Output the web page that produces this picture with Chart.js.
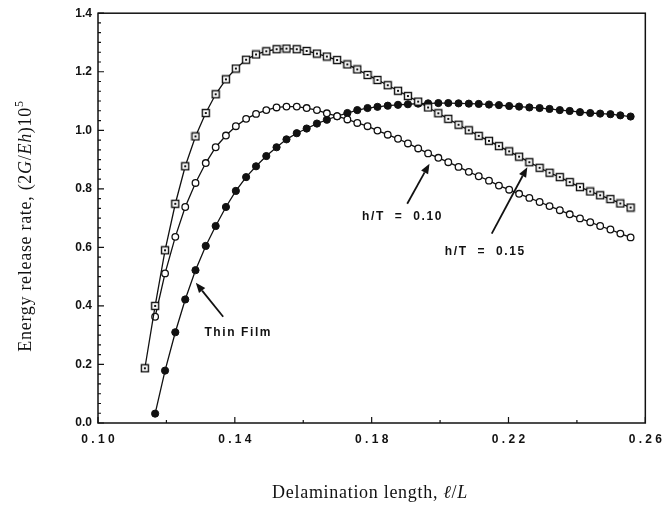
<!DOCTYPE html>
<html>
<head>
<meta charset="utf-8">
<script src="https://cdn.jsdelivr.net/npm/chart.js@4.4.1/dist/chart.umd.min.js"></script>
<style>
  html, body { margin: 0; padding: 0; background: #fff; }
  #wrap { width: 671px; height: 506px; }
</style>
</head>
<body>
<div id="wrap"><canvas id="chart" width="671" height="506"></canvas></div>
<script>
// delamination length l/L at each computed point
const lengths = [
  0.1137, 0.1167, 0.1196, 0.1226, 0.1255, 0.1285, 0.1315, 0.1344, 0.1374, 0.1403,
  0.1433, 0.1462, 0.1492, 0.1522, 0.1551, 0.1581, 0.1610, 0.1640, 0.1669, 0.1699,
  0.1729, 0.1758, 0.1788, 0.1817, 0.1847, 0.1877, 0.1906, 0.1936, 0.1965, 0.1995,
  0.2024, 0.2054, 0.2084, 0.2113, 0.2143, 0.2172, 0.2202, 0.2231, 0.2261, 0.2291,
  0.2320, 0.2350, 0.2379, 0.2409, 0.2439, 0.2468, 0.2498, 0.2527, 0.2557
];

// energy release rate (2G/Eh)10^5
const rateH15 = [
  0.187, 0.400, 0.590, 0.749, 0.877, 0.979, 1.059, 1.123, 1.174, 1.211,
  1.241, 1.259, 1.270, 1.277, 1.279, 1.277, 1.271, 1.262, 1.252, 1.240,
  1.225, 1.208, 1.189, 1.172, 1.154, 1.135, 1.117, 1.098, 1.078, 1.058,
  1.039, 1.019, 1.000, 0.981, 0.964, 0.946, 0.928, 0.910, 0.891, 0.872,
  0.855, 0.840, 0.823, 0.806, 0.791, 0.778, 0.765, 0.750, 0.736
];
const rateH10 = [
  null, 0.363, 0.511, 0.636, 0.738, 0.820, 0.888, 0.942, 0.982, 1.014,
  1.039, 1.056, 1.069, 1.078, 1.081, 1.081, 1.076, 1.069, 1.058, 1.048,
  1.037, 1.025, 1.014, 0.999, 0.985, 0.971, 0.955, 0.938, 0.921, 0.906,
  0.891, 0.875, 0.858, 0.843, 0.828, 0.811, 0.797, 0.783, 0.769, 0.755,
  0.741, 0.727, 0.713, 0.699, 0.686, 0.673, 0.661, 0.647, 0.634
];
const rateThinFilm = [
  null, 0.032, 0.179, 0.310, 0.422, 0.522, 0.605, 0.673, 0.738, 0.793,
  0.840, 0.877, 0.912, 0.942, 0.969, 0.990, 1.006, 1.023, 1.036, 1.048,
  1.059, 1.069, 1.076, 1.080, 1.084, 1.087, 1.089, 1.091, 1.092, 1.093,
  1.093, 1.092, 1.091, 1.090, 1.088, 1.086, 1.083, 1.081, 1.078, 1.076,
  1.073, 1.069, 1.066, 1.062, 1.059, 1.057, 1.055, 1.051, 1.047
];

const xMinorTicks = [0.12, 0.16, 0.20, 0.24];

// labels and arrows, in data units
const notes = [
  { text: "Thin Film", at: [0.1311, 0.309] },
  { text: "h/T  =  0.10", at: [0.1772, 0.704] },
  { text: "h/T  =  0.15", at: [0.2014, 0.584] }
];
const arrows = [
  { from: [0.1366, 0.363], to: [0.1286, 0.479] },
  { from: [0.1904, 0.749], to: [0.1969, 0.886] },
  { from: [0.2151, 0.647], to: [0.2255, 0.874] }
];

const INK = "#111";

function toPoints(ys) {
  const pts = [];
  ys.forEach((v, i) => { if (v !== null) pts.push({ x: lengths[i], y: v }); });
  return pts;
}

// square marker with a small dot in the middle
function squareMarker() {
  const c = document.createElement("canvas");
  c.width = 10; c.height = 10;
  const g = c.getContext("2d");
  g.fillStyle = "#fff";
  g.fillRect(1, 1, 8, 8);
  g.strokeStyle = INK;
  g.lineWidth = 1.4;
  g.strokeRect(1.5, 1.5, 7, 7);
  g.fillStyle = INK;
  g.fillRect(4, 4, 2, 2);
  return c;
}

const framePlugin = {
  id: "frame",
  beforeDatasetsDraw(chart) {
    const { ctx, chartArea: a, scales: { x, y } } = chart;
    ctx.save();
    ctx.strokeStyle = INK;
    ctx.lineWidth = 1.5;
    ctx.strokeRect(a.left, a.top, a.right - a.left, a.bottom - a.top);
    ctx.lineWidth = 1.2;
    ctx.beginPath();
    x.ticks.forEach(t => {
      const px = x.getPixelForValue(t.value);
      ctx.moveTo(px, a.bottom); ctx.lineTo(px, a.bottom - 6);
    });
    xMinorTicks.forEach(v => {
      const px = x.getPixelForValue(v);
      ctx.moveTo(px, a.bottom); ctx.lineTo(px, a.bottom - 3);
    });
    y.ticks.forEach(t => {
      const py = y.getPixelForValue(t.value);
      ctx.moveTo(a.left, py); ctx.lineTo(a.left + 6, py);
    });
    for (let i = 1; i < 42; i++) {
      if (i % 6 === 0) continue;
      const py = y.getPixelForValue(i * 0.2 / 6);
      ctx.moveTo(a.left, py); ctx.lineTo(a.left + 3, py);
    }
    ctx.stroke();
    ctx.restore();
  },
  afterDatasetsDraw(chart) {
    const { ctx, scales: { x, y } } = chart;
    ctx.save();
    ctx.fillStyle = INK;
    ctx.strokeStyle = INK;
    ctx.font = "bold 12px 'Liberation Sans', Arial, sans-serif";
    ctx.letterSpacing = "1.6px";
    ctx.textBaseline = "middle";
    notes.forEach(n => {
      ctx.fillText(n.text, x.getPixelForValue(n.at[0]), y.getPixelForValue(n.at[1]));
    });
    ctx.lineWidth = 1.8;
    arrows.forEach(ar => {
      const x0 = x.getPixelForValue(ar.from[0]), y0 = y.getPixelForValue(ar.from[1]);
      const x1 = x.getPixelForValue(ar.to[0]), y1 = y.getPixelForValue(ar.to[1]);
      const ang = Math.atan2(y1 - y0, x1 - x0);
      const len = 10, half = 4;
      const bx = x1 - len * Math.cos(ang), by = y1 - len * Math.sin(ang);
      ctx.beginPath();
      ctx.moveTo(x0, y0); ctx.lineTo(bx, by);
      ctx.stroke();
      ctx.beginPath();
      ctx.moveTo(x1, y1);
      ctx.lineTo(bx + half * Math.sin(ang), by - half * Math.cos(ang));
      ctx.lineTo(bx - half * Math.sin(ang), by + half * Math.cos(ang));
      ctx.closePath();
      ctx.fill();
    });
    ctx.restore();
  },
  afterDraw(chart) {
    const { ctx } = chart;
    const serif = "'Liberation Serif', 'Times New Roman', serif";
    const rm = "18px " + serif, it = "italic 18px " + serif, sup = "12px " + serif;
    const drawParts = (parts, cx, cy, rotate) => {
      ctx.save();
      ctx.translate(cx, cy);
      if (rotate) ctx.rotate(-Math.PI / 2);
      ctx.fillStyle = INK;
      ctx.textBaseline = "alphabetic";
      ctx.letterSpacing = "0.7px";
      let total = 0;
      parts.forEach(p => { ctx.font = p[1]; total += ctx.measureText(p[0]).width; });
      let px = -total / 2;
      parts.forEach(p => {
        ctx.font = p[1];
        ctx.fillText(p[0], px, p[2] || 0);
        px += ctx.measureText(p[0]).width;
      });
      ctx.restore();
    };
    drawParts([
      ["Energy release rate, (2", rm], ["G", it], ["/", rm], ["Eh", it], [")10", rm], ["5", sup, -8]
    ], 31, 226, true);
    drawParts([
      ["Delamination length, ", rm], ["\u2113", it], ["/", rm], ["L", it]
    ], 370, 498, false);
  }
};

Chart.defaults.font.family = "'Liberation Sans', Arial, sans-serif";
Chart.defaults.color = INK;

new Chart(document.getElementById("chart"), {
  type: "line",
  data: {
    datasets: [
      {
        label: "h/T = 0.15",
        data: toPoints(rateH15),
        borderColor: INK,
        borderWidth: 1.3,
        pointStyle: squareMarker(),
        pointRadius: 4
      },
      {
        label: "h/T = 0.10",
        data: toPoints(rateH10),
        borderColor: INK,
        borderWidth: 1.3,
        pointStyle: "circle",
        pointRadius: 3.3,
        pointBackgroundColor: "#fff",
        pointBorderColor: INK,
        pointBorderWidth: 1.3
      },
      {
        label: "Thin Film",
        data: toPoints(rateThinFilm),
        borderColor: INK,
        borderWidth: 1.3,
        pointStyle: "circle",
        pointRadius: 3.6,
        pointBackgroundColor: INK,
        pointBorderColor: INK,
        pointBorderWidth: 1
      }
    ]
  },
  options: {
    responsive: false,
    animation: false,
    layout: { padding: { top: 12, right: 18, left: 0, bottom: 0 } },
    plugins: { legend: { display: false }, tooltip: { enabled: false } },
    elements: { line: { tension: 0 } },
    scales: {
      x: {
        type: "linear",
        min: 0.10,
        max: 0.26,
        grid: { display: false, drawTicks: false },
        border: { display: false },
        ticks: {
          stepSize: 0.04,
          padding: 9,
          font: { size: 12, weight: "bold" },
          callback: v => v.toFixed(2).split("").join(" ")
        },
        afterFit: s => { s.height = 83; }
      },
      y: {
        min: 0,
        max: 1.4,
        grid: { display: false, drawTicks: false },
        border: { display: false },
        ticks: {
          stepSize: 0.2,
          padding: 6,
          font: { size: 12, weight: "bold" },
          callback: v => v.toFixed(1)
        },
        afterFit: s => { s.width = 98; }
      }
    }
  },
  plugins: [framePlugin]
});
</script>
</body>
</html>
